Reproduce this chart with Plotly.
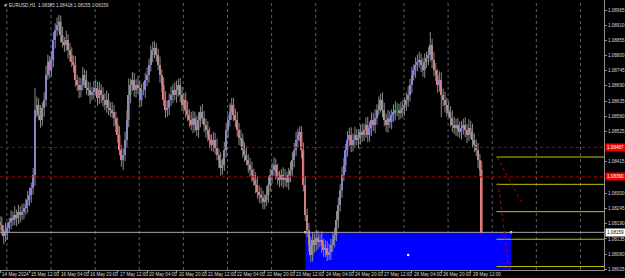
import pandas as pd
import plotly.graph_objects as go

symbol = "EURUSD,H1"
base_price = 1.08000
point = 0.00001

# closes in points above 1.08000 (bars from 14 May 20:00 to 29 May 18:00)
close_pts = [
    186, 167, 146, 160, 175, 196, 211, 204, 222, 211,
    233, 222, 233, 247, 258, 276, 294, 320, 367, 602,
    621, 584, 566, 610, 639, 729, 777, 747, 784, 856,
    892, 911, 922, 874, 849, 838, 856, 820, 802, 777,
    766, 711, 693, 675, 693, 729, 711, 682, 675, 657,
    668, 682, 682, 646, 675, 657, 639, 621, 639, 610,
    602, 595, 573, 548, 512, 457, 421, 439, 494, 566,
    657, 693, 711, 675, 693, 682, 639, 675, 675, 711,
    729, 766, 802, 820, 827, 802, 766, 729, 693, 639,
    602, 610, 639, 657, 675, 657, 675, 693, 657, 621,
    639, 602, 584, 566, 548, 573, 548, 530, 566, 595,
    573, 548, 530, 512, 494, 476, 494, 465, 439, 421,
    392, 403, 457, 530, 566, 595, 621, 584, 566, 530,
    501, 494, 457, 439, 421, 403, 385, 367, 349, 331,
    305, 294, 284, 269, 276, 294, 331, 367, 385, 403,
    378, 356, 349, 367, 349, 356, 341, 367, 385, 421,
    457, 494, 512, 523, 457, 331, 222, 167, 113, 77,
    131, 113, 139, 124, 131, 113, 95, 102, 77, 88,
    113, 131, 149, 204, 258, 312, 367, 403, 457, 494,
    512, 476, 494, 512, 494, 501, 523, 512, 530, 548,
    512, 537, 566, 548, 573, 602, 621, 639, 602, 566,
    548, 573, 559, 584, 595, 602, 602, 595, 602, 610,
    621, 639, 657, 693, 729, 747, 766, 777, 784, 766,
    747, 777, 791, 802, 838, 784, 747, 729, 693, 711,
    657, 639, 621, 602, 595, 573, 548, 537, 548, 530,
    523, 537, 548, 530, 512, 537, 523, 494, 476, 457,
    421, 385, 159,
]
first_open_pts = 196

wick_up_pts = [
    22, 30, 18, 35, 20, 15, 28, 24, 32, 19,
    26, 21, 30, 17, 24, 33, 27, 19, 25, 80,
    30, 24, 36, 20, 28, 34, 26, 22, 31, 29,
    25, 27, 25, 23, 30, 18, 34, 21, 26, 28,
    23, 32, 19, 28, 25, 30, 21, 34, 23, 28,
    18, 26, 32, 23, 30, 21, 28, 24, 34, 25,
    21, 30, 26, 23, 28, 32, 19, 25, 30, 35,
    60, 23, 30, 26, 21, 32, 28, 23, 30, 26,
    28, 23, 34, 30, 26, 18, 23, 30, 21, 28,
    32, 26, 23, 30, 21, 28, 34, 23, 26, 30,
    23, 28, 32, 21, 30, 26, 23, 34, 28, 21,
    30, 26, 23, 32, 28, 21, 30, 26, 34, 23,
    28, 23, 30, 26, 21, 32, 25, 26, 23, 30,
    26, 30, 23, 28, 32, 21, 26, 30, 23, 28,
    30, 23, 28, 26, 21, 32, 30, 23, 26, 28,
    23, 30, 26, 21, 28, 32, 23, 26, 30, 28,
    26, 30, 23, 20, 21, 28, 32, 23, 26, 30,
    28, 23, 30, 26, 21, 32, 23, 28, 26, 30,
    23, 30, 26, 32, 28, 21, 30, 26, 23, 32,
    26, 28, 23, 30, 21, 32, 26, 30, 23, 28,
    30, 23, 28, 26, 32, 21, 30, 23, 28, 26,
    23, 30, 26, 21, 28, 32, 26, 23, 30, 28,
    28, 26, 32, 23, 30, 21, 28, 26, 30, 23,
    26, 30, 23, 28, 47, 23, 30, 26, 21, 32,
    28, 23, 30, 26, 32, 21, 28, 30, 23, 26,
    30, 26, 23, 28, 21, 32, 26, 30, 23, 20,
    26, 23, 33,
]
wick_dn_pts = [
    24, 19, 30, 22, 28, 17, 26, 22, 19, 30,
    22, 28, 19, 26, 24, 28, 22, 28, 24, 40,
    26, 19, 28, 22, 32, 24, 17, 28, 22, 26,
    30, 22, 24, 28, 19, 26, 22, 32, 24, 19,
    28, 24, 22, 30, 26, 19, 28, 24, 22, 32,
    19, 26, 24, 28, 22, 30, 24, 19, 28, 26,
    24, 22, 30, 26, 28, 19, 24, 36, 22, 28,
    26, 30, 22, 24, 28, 22, 26, 24, 19, 28,
    22, 28, 24, 26, 30, 24, 19, 28, 26, 22,
    28, 24, 26, 22, 30, 19, 28, 24, 26, 22,
    24, 28, 22, 26, 19, 30, 24, 22, 28, 26,
    22, 26, 28, 24, 30, 22, 26, 24, 19, 28,
    28, 24, 22, 26, 30, 24, 28, 22, 26, 24,
    26, 22, 28, 24, 19, 28, 24, 26, 22, 30,
    24, 28, 22, 26, 26, 22, 28, 24, 30, 22,
    28, 24, 26, 22, 30, 24, 19, 28, 26, 24,
    26, 22, 28, 24, 30, 24, 22, 26, 24, 25,
    24, 28, 22, 26, 19, 28, 24, 26, 22, 18,
    28, 24, 26, 22, 30, 24, 28, 22, 26, 24,
    22, 26, 24, 28, 19, 30, 24, 26, 22, 28,
    26, 24, 28, 22, 30, 24, 19, 28, 26, 22,
    24, 28, 22, 26, 24, 30, 22, 28, 24, 26,
    28, 22, 26, 24, 30, 19, 28, 24, 22, 26,
    24, 28, 22, 26, 24, 30, 22, 22, 28, 24,
    80, 22, 28, 24, 19, 30, 26, 22, 28, 24,
    22, 28, 24, 26, 30, 22, 24, 28, 26, 22,
    28, 24, 4,
]

# time axis labels
tick_times = ["2024-05-14 20:00", "2024-05-15 12:00", "2024-05-16 04:00", "2024-05-16 20:00",
              "2024-05-17 12:00", "2024-05-20 04:00", "2024-05-20 20:00", "2024-05-21 12:00",
              "2024-05-22 04:00", "2024-05-22 20:00", "2024-05-23 12:00", "2024-05-24 04:00",
              "2024-05-24 20:00", "2024-05-27 12:00", "2024-05-28 04:00", "2024-05-28 20:00",
              "2024-05-29 12:00"]
tick_texts = ["14 May 2024", "15 May 12:00", "16 May 04:00", "16 May 20:00", "17 May 12:00",
              "20 May 04:00", "20 May 20:00", "21 May 12:00", "22 May 04:00", "22 May 20:00",
              "23 May 12:00", "24 May 04:00", "24 May 20:00", "27 May 12:00", "28 May 04:00",
              "28 May 20:00", "29 May 12:00"]

# price axis labels
price_ticks = [1.08965, 1.08910, 1.08855, 1.08800, 1.08745, 1.08690, 1.08635, 1.08580,
               1.08525, 1.08415, 1.08300, 1.08245, 1.08190, 1.08135, 1.08080, 1.08025]

# objects
red_levels = [1.08467, 1.08360]
yellow_levels = [1.08432, 1.08333, 1.08234, 1.08134, 1.08035]
yellow_start = "2024-05-30 02:00"
rect_start, rect_end = "2024-05-23 18:00", "2024-05-30 10:00"
rect_top, rect_bottom = 1.08159, 1.07994
trend_lines = [  # (bar1, price1, bar2, price2)
    (270.4, 1.08431, 283.6, 1.08270),
    (270.9, 1.08338, 276.9, 1.08022),
]

# ---------------------------------------------------------------
times = [t for t in pd.date_range("2024-05-14 20:00", "2024-06-04 00:00", freq="h") if t.weekday() < 5]
tindex = {t: i for i, t in enumerate(times)}
def ti(s):
    return tindex[pd.Timestamp(s)]

n = len(close_pts)
opens = [first_open_pts] + close_pts[:-1]
px = lambda v: base_price + v * point
O = [px(v) for v in opens]
C = [px(v) for v in close_pts]
H = [px(max(o, c) + u) for o, c, u in zip(opens, close_pts, wick_up_pts)]
L = [px(min(o, c) - d) for o, c, d in zip(opens, close_pts, wick_dn_pts)]
xs = list(range(n))

BULL, BEAR, DOJI, WICK = "#8484ff", "#f28080", "#00e000", "#8a8a8a"

wx, wy, dx, dy = [], [], [], []
bx, bb, bh, bc = [], [], [], []
for i in xs:
    if abs(C[i] - O[i]) < 1e-9:
        dx += [i, i, None]; dy += [L[i], H[i], None]
    else:
        wx += [i, i, None]; wy += [L[i], H[i], None]
        bx.append(i); bb.append(min(O[i], C[i])); bh.append(abs(C[i] - O[i]))
        bc.append(BULL if C[i] > O[i] else BEAR)

fig = go.Figure()
fig.add_trace(go.Scatter(x=wx, y=wy, mode="lines", line=dict(color=WICK, width=1), hoverinfo="skip"))
fig.add_trace(go.Bar(x=bx, y=bh, base=bb, width=0.85, marker=dict(color=bc, line=dict(width=0)), hoverinfo="skip"))
fig.add_trace(go.Scatter(x=dx, y=dy, mode="lines", line=dict(color=DOJI, width=1), hoverinfo="skip"))

# selection handles of the rectangle
r0, r1 = ti(rect_start), ti(rect_end)
fig.add_trace(go.Scatter(x=[r0, r1, (r0 + r1) / 2], y=[rect_top, rect_top, (rect_top + rect_bottom) / 2],
                         mode="markers", marker=dict(color="white", size=2.5), hoverinfo="skip"))

x_min, x_max = -0.03, 328.5
y_min, y_max = 1.080225, 1.0900125

shapes = []
shapes.append(dict(type="rect", xref="x", yref="y", x0=r0, x1=r1, y0=rect_bottom, y1=rect_top,
                   fillcolor="#0000ff", line=dict(width=0), layer="below"))
for i, t in enumerate(times):
    if t.hour == 0 and i - 0.3 < x_max:
        shapes.append(dict(type="line", xref="x", yref="paper", x0=i - 0.3, x1=i - 0.3, y0=0, y1=1,
                           line=dict(color="#58626e", width=1, dash="dot"), layer="below"))
for lv in red_levels:
    shapes.append(dict(type="line", xref="paper", yref="y", x0=0, x1=1, y0=lv, y1=lv,
                       line=dict(color="#b00000", width=1, dash="dot")))
shapes.append(dict(type="line", xref="paper", yref="y", x0=0, x1=1, y0=C[-1], y1=C[-1],
                   line=dict(color="#a8a8a8", width=1)))
ys0 = ti(yellow_start)
for lv in yellow_levels:
    shapes.append(dict(type="line", xref="x", yref="y", x0=ys0, x1=x_max, y0=lv, y1=lv,
                       line=dict(color="#c8c000", width=1)))
for (a, p1, b, p2) in trend_lines:
    shapes.append(dict(type="line", xref="x", yref="y", x0=a, x1=b, y0=p1, y1=p2,
                       line=dict(color="#c00000", width=1, dash="dot")))

FONT = "Liberation Sans"
ann = []
for s, txt in zip(tick_times, tick_texts):
    ann.append(dict(x=ti(s), y=0, xref="x", yref="paper", text=txt, showarrow=False,
                    xanchor="left", yanchor="top", xshift=0, yshift=0,
                    font=dict(family=FONT, size=4.6, color="#d8d8d8")))
for lv in red_levels:
    ann.append(dict(x=1, y=lv, xref="paper", yref="y", text=f"{lv:.5f}", showarrow=False,
                    xanchor="left", yanchor="middle", xshift=1, bgcolor="#ee0000", borderpad=1,
                    font=dict(family=FONT, size=4.6, color="#ffffff")))
ann.append(dict(x=1, y=C[-1], xref="paper", yref="y", text=f"{C[-1]:.5f}", showarrow=False,
                xanchor="left", yanchor="middle", xshift=1, bgcolor="#ffffff", borderpad=1,
                font=dict(family=FONT, size=4.6, color="#000000")))
header = f"{symbol}  {O[-1]:.5f} {H[-1]:.5f} {L[-1]:.5f} {C[-1]:.5f}"
ann.append(dict(x=0, y=1, xref="paper", yref="paper", text=header, showarrow=False,
                xanchor="left", yanchor="top", xshift=7, yshift=-1,
                font=dict(family=FONT, size=4.6, color="#d8d8d8")))
ann.append(dict(x=0, y=1, xref="paper", yref="paper", text="▼", showarrow=False,
                xanchor="left", yanchor="top", xshift=1, yshift=-1,
                font=dict(family=FONT, size=4.6, color="#d8d8d8")))

fig.update_layout(
    width=625, height=278, margin=dict(l=0, r=21, t=0, b=8),
    paper_bgcolor="#000000", plot_bgcolor="#000000", showlegend=False,
    shapes=shapes, annotations=ann, barmode="overlay",
    xaxis=dict(range=[x_min, x_max], showgrid=False, zeroline=False, showline=True,
               linecolor="#909090", linewidth=1, mirror=True,
               tickvals=[ti(s) for s in tick_times], ticks="outside", ticklen=2,
               tickcolor="#909090", showticklabels=False),
    yaxis=dict(range=[y_min, y_max], side="right", showgrid=False, zeroline=False, showline=True,
               linecolor="#909090", linewidth=1, mirror=True,
               tickvals=price_ticks, ticktext=[f"{p:.5f}" for p in price_ticks],
               ticks="outside", ticklen=2, tickcolor="#909090",
               tickfont=dict(family=FONT, size=4.6, color="#d8d8d8")),
)
fig.write_html("out.html")
